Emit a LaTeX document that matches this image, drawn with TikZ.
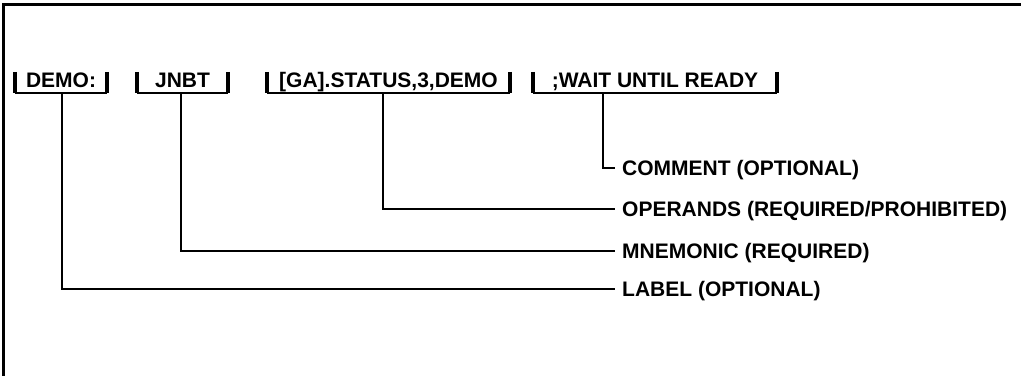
\documentclass[tikz,border=0pt]{standalone}
\usepackage{fontspec}
\setmainfont{Liberation Sans}
\usetikzlibrary{positioning}

\begin{document}
\begin{tikzpicture}[
    x=1pt, y=-1pt,
    field/.style={minimum width=#1, minimum height=21pt, inner sep=0pt,
      text height=15pt, text depth=6pt,
      font=\fontsize{21}{24}\selectfont\bfseries},
    part/.style={anchor=west, inner xsep=7pt, inner ysep=0pt,
      text height=15pt, text depth=0pt,
      font=\fontsize{21}{24}\selectfont\bfseries},
    rim/.style={line width=2pt},
    tick/.style={line width=4pt},
    lead/.style={line width=2.4pt}
  ]
  \useasboundingbox (0,0) rectangle (1021,376);
  % frame (top and left edge only)
  \draw[line width=3pt] (1021,4) -- (3,4) -- (3,376);

  % the four fields of the statement
  \node[field=92pt] (f1) at (61,82.5) {DEMO:};
  \node[field=91pt] (f2) at (182.5,82.5) {JNBT};
  \node[field=243pt] (f3) at (388.5,82.5) {[GA].STATUS,3,DEMO};
  \node[field=244pt] (f4) at (655,82.5) {;WAIT UNTIL READY};
  \foreach \f in {f1, f2, f3, f4} {
    \draw[rim] (\f.south west) -- (\f.south east);
    \draw[tick] (\f.north west) -- (\f.south west);
    \draw[tick] (\f.north east) -- (\f.south east);
  }

  % what each field is
  \node[part] (cmt) at (615,168) {COMMENT (OPTIONAL)};
  \node[part] (opr) at (615,209) {OPERANDS (REQUIRED/PROHIBITED)};
  \node[part] (mnm) at (615,251) {MNEMONIC (REQUIRED)};
  \node[part] (lbl) at (615,289) {LABEL (OPTIONAL)};

  \draw[lead] ([xshift=-52pt]f4.south) |- (cmt);
  \draw[lead] ([xshift=-5.5pt]f3.south) |- (opr);
  \draw[lead] ([xshift=-1.5pt]f2.south) |- (mnm);
  \draw[lead] ([xshift=1pt]f1.south) |- (lbl);
\end{tikzpicture}
\end{document}
